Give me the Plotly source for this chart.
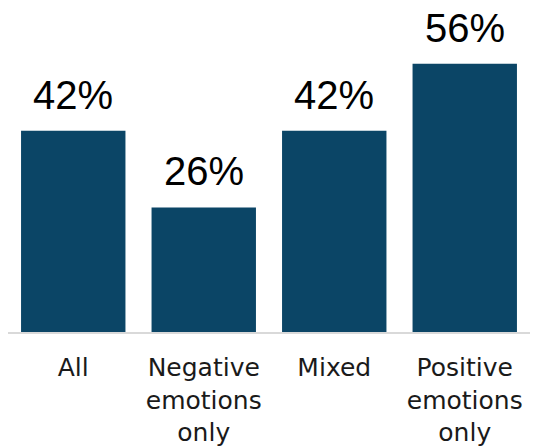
import plotly.graph_objects as go

categories = ["All", "Negative<br>emotions<br>only", "Mixed", "Positive<br>emotions<br>only"]
values = [42, 26, 42, 56]
value_labels = [f"{v}%" for v in values]

BAR_COLOR = "#0B4566"

fig = go.Figure(
    go.Bar(
        x=categories,
        y=values,
        marker=dict(color=BAR_COLOR, line=dict(width=0)),
        hoverinfo="skip",
    )
)

# value labels floating above each bar
for cat, v, lab in zip(categories, values, value_labels):
    fig.add_annotation(
        x=cat, y=v, text=lab, showarrow=False,
        yanchor="bottom", yshift=12,
        font=dict(family="Liberation Sans, Arial, sans-serif", size=40, color="#000000"),
    )

fig.update_layout(
    width=533, height=446,
    margin=dict(l=8, r=3, t=0, b=114),
    paper_bgcolor="white", plot_bgcolor="white",
    bargap=0.2,
    showlegend=False,
    xaxis=dict(
        showline=True, linecolor="#d9d9d9", linewidth=2,
        showgrid=False, ticks="", ticklabelstandoff=12,
        tickfont=dict(family="DejaVu Sans, sans-serif", size=25, color="#1a1a1a"),
    ),
    yaxis=dict(range=[0, 69.3], visible=False, showgrid=False, zeroline=False),
)

fig.write_html("out.html")
